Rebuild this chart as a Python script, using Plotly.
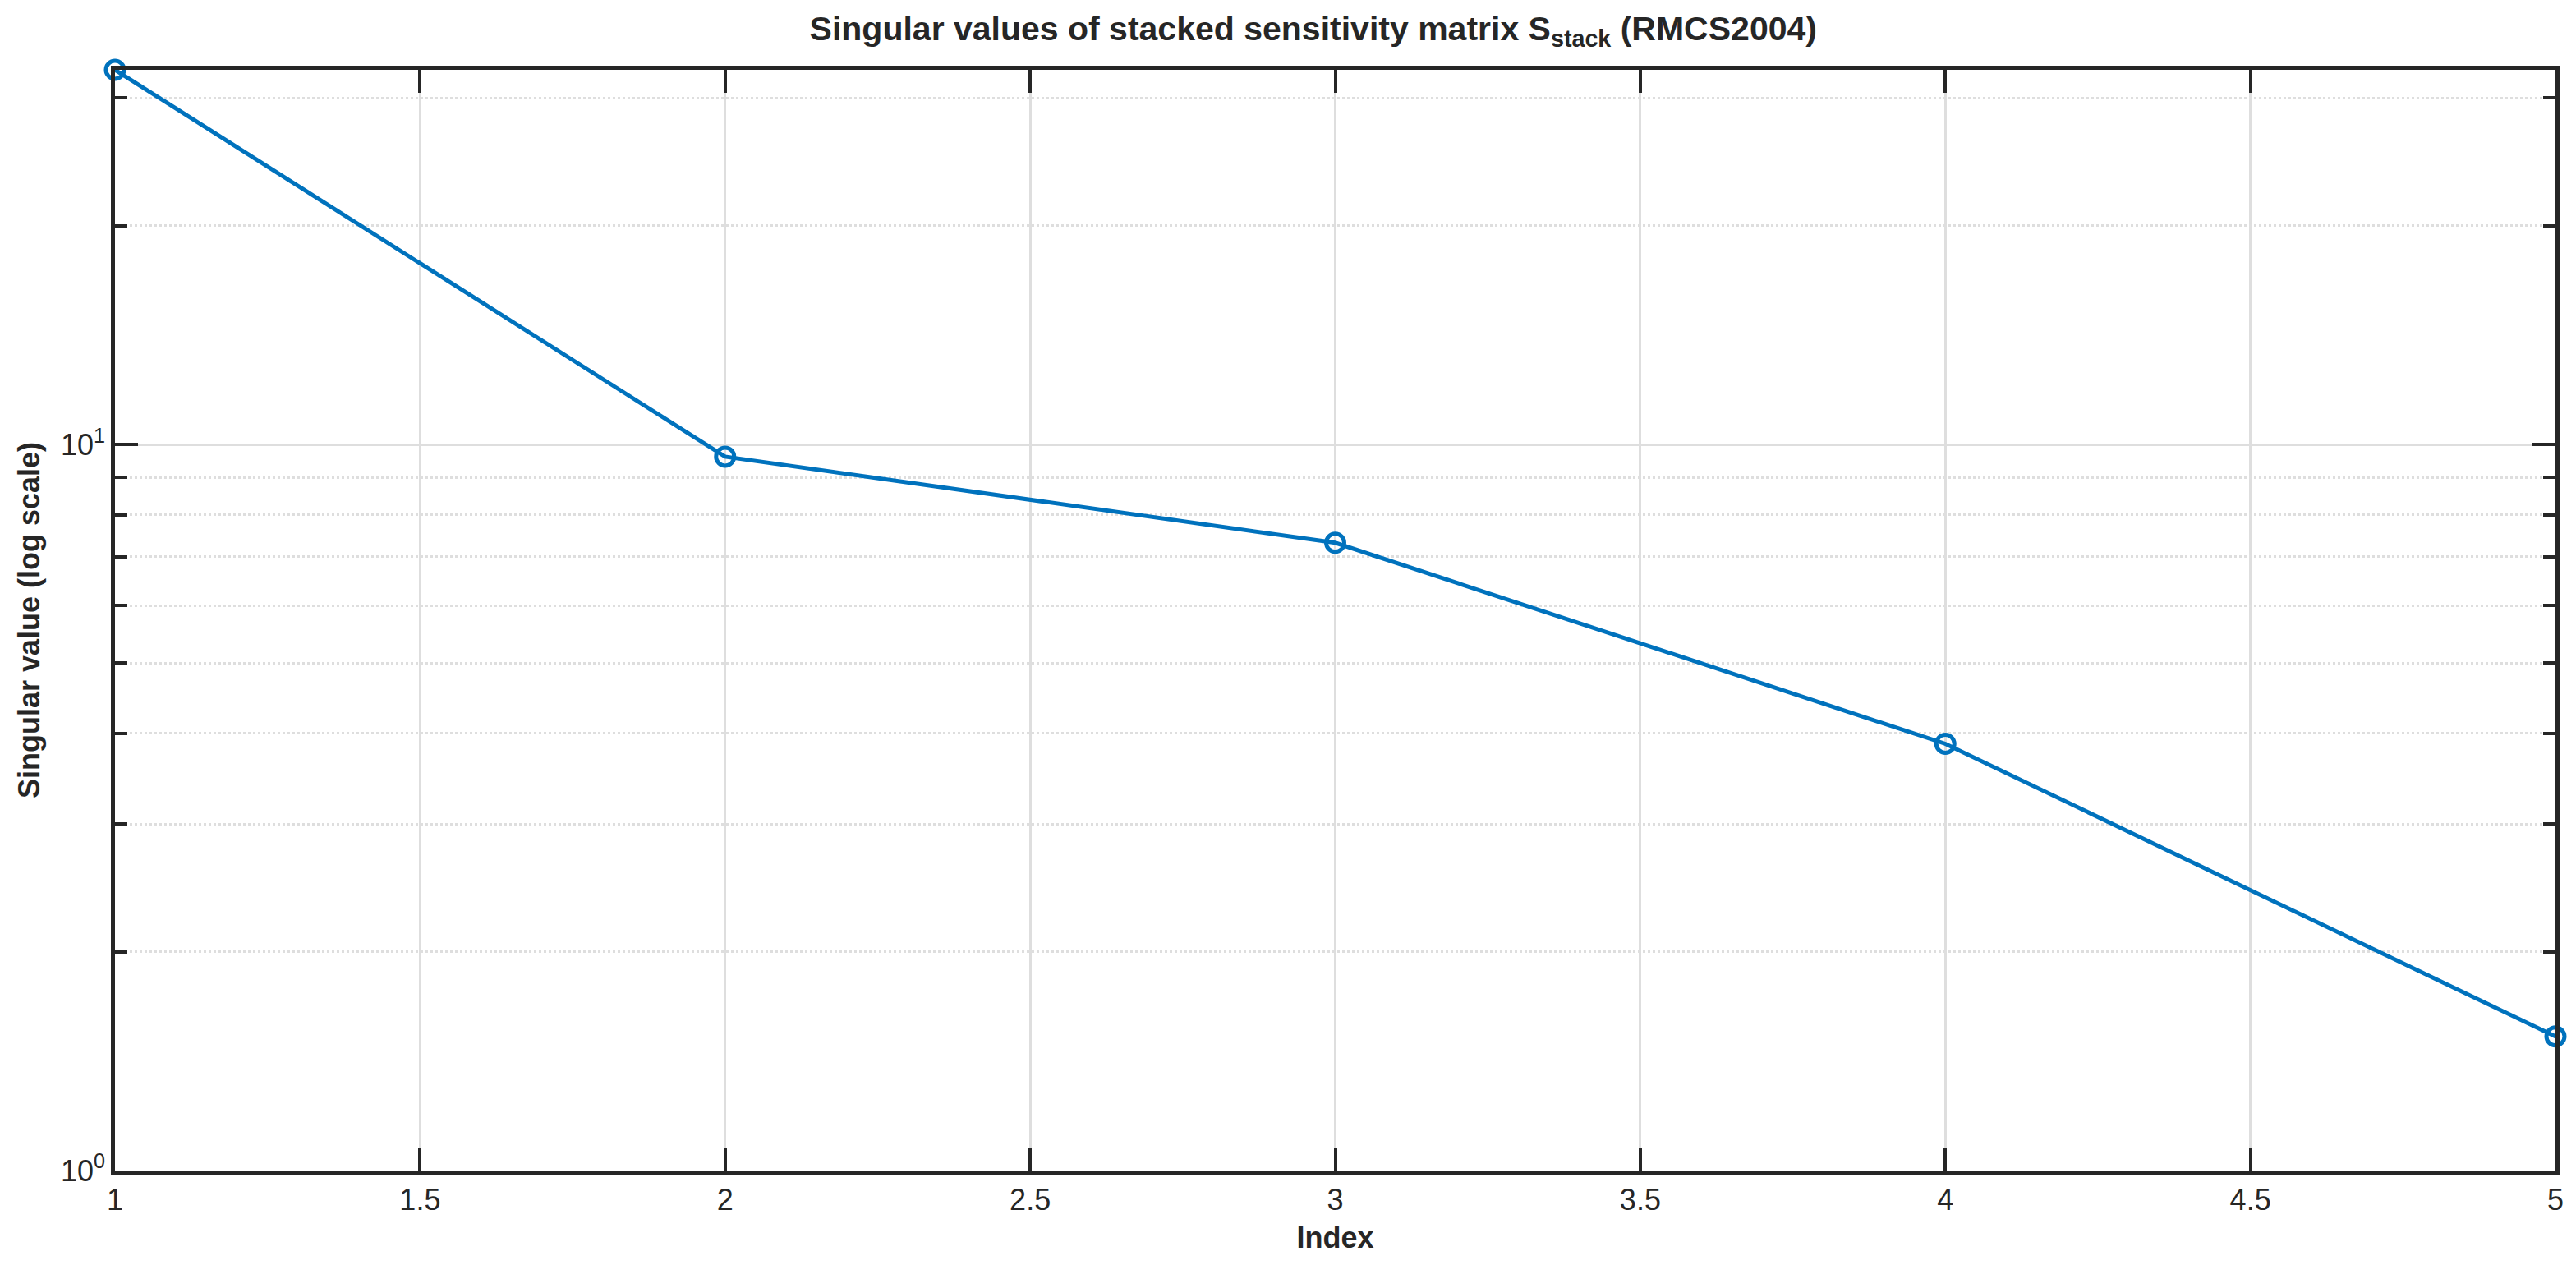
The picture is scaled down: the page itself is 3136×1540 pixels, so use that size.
import plotly.graph_objects as go

# singular values (log y)
index = [1, 2, 3, 4, 5]
sing_vals = [32.8, 9.62, 7.32, 3.87, 1.53]

x_ticks = [1, 1.5, 2, 2.5, 3, 3.5, 4, 4.5, 5]
y_major = [1, 10]
y_major_text = ["10<sup>0</sup>", "10<sup>1</sup>"]
y_minor = [2, 3, 4, 5, 6, 7, 8, 9, 20, 30]

FONT = "Liberation Sans, Arial, sans-serif"
AX = "#262626"
GRID = "#dedede"

fig = go.Figure()
fig.add_trace(go.Scatter(
    x=index, y=sing_vals, mode="lines+markers",
    line=dict(color="#0072BD", width=5),
    marker=dict(symbol="circle-open", size=22, color="#0072BD",
                line=dict(width=5, color="#0072BD")),
    showlegend=False, cliponaxis=False,
))

fig.update_xaxes(
    range=[1, 5], tickvals=x_ticks,
    showline=True, linecolor=AX, linewidth=4.5, mirror="ticks",
    ticks="inside", ticklen=28, tickwidth=4, tickcolor=AX,
    showgrid=True, gridcolor=GRID, gridwidth=3,
    zeroline=False,
    tickfont=dict(family=FONT, size=36, color=AX),
    title=dict(text="<b>Index</b>", font=dict(family=FONT, size=36, color=AX), standoff=15),
    automargin=False,
)
fig.update_yaxes(
    type="log", range=[0, 1.5159],
    tickvals=y_major, ticktext=y_major_text,
    showline=True, linecolor=AX, linewidth=4.5, mirror="ticks",
    ticks="inside", ticklen=28, tickwidth=4, tickcolor=AX,
    showgrid=True, gridcolor=GRID, gridwidth=3,
    zeroline=False,
    minor=dict(tickvals=y_minor, ticks="inside", ticklen=15, tickwidth=4,
               tickcolor=AX, showgrid=True, gridcolor=GRID, gridwidth=3,
               griddash="dot"),
    tickfont=dict(family=FONT, size=36, color=AX),
    title=dict(text="<b>Singular value (log scale)</b>",
               font=dict(family=FONT, size=36, color=AX), standoff=16),
    automargin=False,
)

# page body adds 8px, so the figure is a bit smaller than the window
fig.update_layout(
    width=3120, height=1524,
    margin=dict(l=132, r=17, t=77, b=107),
    paper_bgcolor="white", plot_bgcolor="white",
    title=dict(
        text="<b>Singular values of stacked sensitivity matrix S<sub>stack</sub> (RMCS2004)</b>",
        font=dict(family=FONT, size=41, color=AX),
        x=0.491, xref="paper", xanchor="center",
        y=1 - 12 / 1524, yref="container", yanchor="top",
    ),
)

fig.write_html("out.html")
